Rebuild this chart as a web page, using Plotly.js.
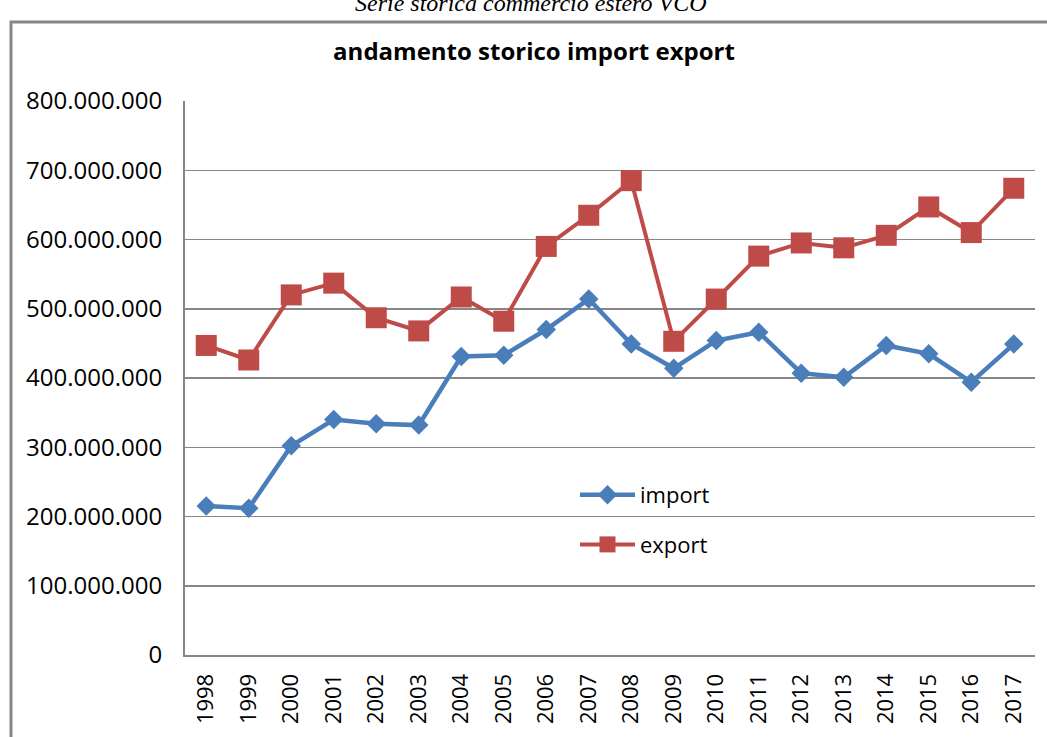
<!DOCTYPE html>
<html>
<head>
<meta charset="utf-8">
<script src="https://cdn.plot.ly/plotly-3.0.1.min.js"></script>
<style>
html,body{margin:0;padding:0;background:#fff;}
#chart{width:1047px;height:737px;}
</style>
</head>
<body>
<div id="chart"></div>
<script>
const years = ['1998','1999','2000','2001','2002','2003','2004','2005','2006','2007','2008','2009','2010','2011','2012','2013','2014','2015','2016','2017'];
const importValues = [215e6,212e6,302e6,340e6,334e6,332e6,431e6,433e6,470e6,514e6,449e6,414e6,454e6,466e6,407e6,401e6,447e6,435e6,394e6,449e6];
const exportValues = [447e6,426e6,520e6,537e6,487e6,468e6,517e6,482e6,590e6,635e6,685e6,453e6,514e6,576e6,595e6,588e6,606e6,647e6,610e6,674e6];
const seriesNames = ['import','export'];
const chartTitle = 'andamento storico import export';
const caption = 'Serie storica commercio estero VCO';

const W = 1047, H = 737;
const M = {l:185, r:12, t:101, b:82};
const PW = W - M.l - M.r, PH = H - M.t - M.b;
const px2x = p => (p - M.l) / PW;
const py2y = p => (H - M.b - p) / PH;

const traces = [
  {x: years, y: importValues, name: seriesNames[0], type:'scatter', mode:'lines+markers',
   legendgroup:'a',
   line:{color:'#4A7EBB', width:4.5},
   marker:{symbol:'diamond', size:15, color:'#4A7EBB'}},
  {x: years, y: exportValues, name: seriesNames[1], type:'scatter', mode:'lines+markers',
   legendgroup:'b',
   line:{color:'#BE4B48', width:4},
   marker:{symbol:'square', size:21, color:'#BE4B48'}}
];

const layout = {
  width: W, height: H,
  margin: M,
  paper_bgcolor:'#fff', plot_bgcolor:'#fff',
  separators: ',.',
  font:{family:'Open Sans, sans-serif', color:'#000'},
  title:{text:'<b>'+chartTitle+'</b>', font:{size:24, family:'Open Sans, sans-serif', color:'#000'},
         x: 534/W, xanchor:'center', y: 1 - 52/H, yanchor:'middle'},
  showlegend:true,
  legend:{x: px2x(575), y: py2y(474), xanchor:'left', yanchor:'top',
          font:{size:22, family:'Open Sans, sans-serif', color:'#000'},
          bgcolor:'rgba(0,0,0,0)', borderwidth:0,
          traceorder:'grouped', tracegroupgap:18, itemwidth:55},
  xaxis:{type:'category', range:[-0.5, 19.5], tickangle:-90, showgrid:false, showline:true, linecolor:'#868686', linewidth:2,
         ticks:'', ticklabelstandoff:8, tickfont:{size:22, family:'Open Sans, sans-serif', color:'#000'}, fixedrange:true},
  yaxis:{range:[0,800e6], dtick:100e6, tickformat:',d', showgrid:true, gridcolor:'#868686', gridwidth:1.5,
         showline:true, linecolor:'#868686', linewidth:2, zeroline:false, ticks:'', ticklabelstandoff:16,
         tickfont:{size:24, family:'Open Sans, sans-serif', color:'#000'}, fixedrange:true},
  shapes:[{type:'rect', xref:'paper', yref:'paper', x0:px2x(11), x1:px2x(1060), y0:py2y(760), y1:py2y(22),
           line:{color:'#878787', width:3}, fillcolor:'rgba(0,0,0,0)', layer:'above'}],
  annotations:[{text:'<i>'+caption+'</i>', xref:'paper', yref:'paper', x:px2x(530), y:py2y(3),
                xanchor:'center', yanchor:'middle', showarrow:false,
                font:{size:24, family:'Liberation Serif, serif', color:'#000'}}]
};

Plotly.newPlot('chart', traces, layout, {displayModeBar:false, staticPlot:true});
</script>
</body>
</html>
